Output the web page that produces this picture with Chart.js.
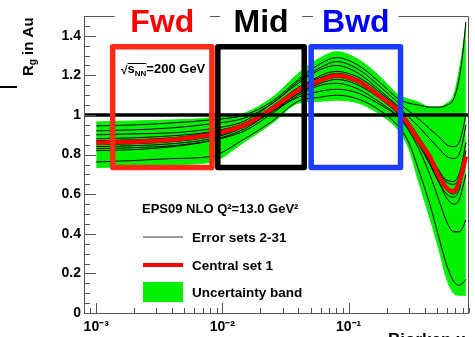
<!DOCTYPE html>
<html>
<head>
<meta charset="utf-8">
<script src="https://cdn.jsdelivr.net/npm/chart.js@4.4.0/dist/chart.umd.min.js"></script>
<style>
  html, body { margin: 0; padding: 0; background: #fff; }
  #wrap { width: 475px; height: 337px; }
</style>
</head>
<body>
<div id="wrap"><canvas id="chart" width="475" height="337"></canvas></div>
<script>
// Bjorken x sample points
const xValues = [0.001, 0.002, 0.004, 0.008, 0.015, 0.025, 0.04, 0.06, 0.08, 0.12, 0.18,
                 0.25, 0.3, 0.36, 0.44, 0.52, 0.6, 0.68, 0.75, 0.8, 0.85];

// Central set 1 (red)
const centralSet = [0.86, 0.865, 0.875, 0.90, 0.95, 1.035, 1.125, 1.175, 1.20, 1.17, 1.09,
                    1.02, 0.95, 0.87, 0.79, 0.69, 0.63, 0.615, 0.66, 0.72, 0.79];

// Uncertainty band edges (green)
const bandUpper = [0.965, 0.97, 0.975, 0.985, 1.01, 1.09, 1.21, 1.29, 1.32, 1.28, 1.19,
                   1.10, 1.08, 1.065, 1.04, 1.04, 1.06, 1.10, 1.22, 1.33, 1.46];
const bandLower = [0.735, 0.74, 0.75, 0.76, 0.865, 0.96, 1.06, 1.07, 1.075, 1.06, 1.0,
                   0.92, 0.83, 0.66, 0.48, 0.32, 0.17, 0.10, 0.09, 0.09, 0.09];

// Error sets 2-31 (a visible subset)
const errorSet2  = [0.945, 0.95, 0.96, 0.975, 1.0, 1.07, 1.18, 1.26, 1.29, 1.25, 1.16, 1.08, 1.06, 1.05, 1.04, 1.04, 1.05, 1.08, 1.18, 1.30, 1.47];
const errorSet3  = [0.763, 0.77, 0.78, 0.79, 0.88, 0.97, 1.07, 1.09, 1.10, 1.08, 1.02, 0.94, 0.86, 0.72, 0.55, 0.38, 0.24, 0.16, 0.14, 0.15, 0.17];
const errorSet4  = [0.90, 0.905, 0.91, 0.93, 0.97, 1.06, 1.16, 1.23, 1.25, 1.21, 1.12, 1.04, 0.99, 0.94, 0.88, 0.83, 0.79, 0.78, 0.80, 0.86, 0.95];
const errorSet5  = [0.83, 0.835, 0.845, 0.87, 0.92, 1.01, 1.10, 1.15, 1.16, 1.13, 1.06, 0.99, 0.92, 0.83, 0.70, 0.57, 0.46, 0.41, 0.41, 0.43, 0.47];
const errorSet6  = [0.88, 0.885, 0.895, 0.915, 0.96, 1.045, 1.14, 1.19, 1.21, 1.18, 1.10, 1.03, 0.96, 0.88, 0.79, 0.71, 0.66, 0.65, 0.68, 0.74, 0.82];
const errorSet7  = [0.84, 0.845, 0.855, 0.88, 0.94, 1.02, 1.11, 1.16, 1.18, 1.15, 1.08, 1.01, 0.94, 0.86, 0.77, 0.68, 0.62, 0.60, 0.64, 0.71, 0.78];
const errorSet8  = [0.87, 0.875, 0.885, 0.91, 0.955, 1.04, 1.13, 1.20, 1.22, 1.19, 1.11, 1.03, 0.965, 0.89, 0.80, 0.72, 0.67, 0.665, 0.70, 0.77, 0.86];
const errorSet9  = [0.85, 0.855, 0.865, 0.89, 0.94, 1.02, 1.11, 1.17, 1.19, 1.16, 1.08, 1.00, 0.93, 0.85, 0.75, 0.66, 0.60, 0.585, 0.62, 0.69, 0.75];
const errorSet10 = [0.82, 0.825, 0.84, 0.87, 0.93, 1.02, 1.09, 1.12, 1.13, 1.11, 1.05, 0.99, 0.94, 0.86, 0.76, 0.66, 0.58, 0.55, 0.57, 0.63, 0.70];
const errorSet11 = [0.92, 0.925, 0.935, 0.955, 0.985, 1.06, 1.17, 1.24, 1.27, 1.23, 1.14, 1.06, 1.02, 0.98, 0.93, 0.89, 0.85, 0.84, 0.86, 0.92, 1.0];

// axis ticks
const xTickValues = [0.001, 0.01, 0.1];
const yTickValues = [0, 0.2, 0.4, 0.6, 0.8, 1, 1.2, 1.4];

// rapidity windows
const regionNames = ['Fwd', 'Mid', 'Bwd'];
const regionXMin = [0.00135, 0.0092, 0.0505];
const regionXMax = [0.00826, 0.0445, 0.258];
const regionYMin = 0.735;
const regionYMax = 1.345;

const FONT = '"Liberation Sans", Arial, sans-serif';
const GREEN = '#00f000';

const sup = { '-': '\u207B', '0': '\u2070', '1': '\u00B9', '2': '\u00B2', '3': '\u00B3' };
function expLabel(v) {
    const e = String(Math.round(Math.log10(v)));
    return '10' + e.split('').map(c => sup[c]).join('');
}

function pts(ys) {
    return xValues.map((x, i) => ({ x: x, y: ys[i] }));
}

const errorSets = [errorSet2, errorSet3, errorSet4, errorSet5, errorSet6,
                   errorSet7, errorSet8, errorSet9, errorSet10, errorSet11];

const datasets = [
    { label: 'Central set 1', data: pts(centralSet), borderColor: '#ff0000', borderWidth: 4.5, order: 0 }
];
errorSets.forEach((s, i) => {
    datasets.push({ label: 'Error set ' + (i + 2), data: pts(s), borderColor: '#000', borderWidth: 1, order: 1 });
});
datasets.push({ label: 'band upper', data: pts(bandUpper), borderColor: GREEN, borderWidth: 1,
                backgroundColor: GREEN, fill: '+1', order: 2 });
datasets.push({ label: 'band lower', data: pts(bandLower), borderColor: GREEN, borderWidth: 1, order: 3 });

// frame, ticks, boxes and labels
const decor = {
    id: 'decor',
    afterDatasetsDraw(chart) {
        const ctx = chart.ctx;
        const a = chart.chartArea;
        const xs = chart.scales.x, ys = chart.scales.y;
        ctx.save();

        // line at R = 1
        const y1 = ys.getPixelForValue(1);
        ctx.strokeStyle = '#000';
        ctx.lineWidth = 3.5;
        ctx.beginPath(); ctx.moveTo(a.left, y1); ctx.lineTo(a.right, y1); ctx.stroke();

        // region boxes
        const boxColors = ['#ff2a14', '#000000', '#1a3cff'];
        const textColors = ['#ff0000', '#000000', '#0000ff'];
        const t = ys.getPixelForValue(regionYMax), b = ys.getPixelForValue(regionYMin);
        ctx.lineJoin = 'round';
        regionNames.forEach((n, i) => {
            const l = xs.getPixelForValue(regionXMin[i]), r = xs.getPixelForValue(regionXMax[i]);
            ctx.strokeStyle = boxColors[i];
            ctx.lineWidth = 5.5;
            ctx.strokeRect(l, t, r - l, b - t);
        });

        // frame
        ctx.strokeStyle = '#555';
        ctx.lineWidth = 1;
        ctx.strokeRect(a.left + 0.5, a.top + 0.5, a.right - a.left - 1, a.bottom - a.top);

        // y ticks (inside)
        ctx.beginPath();
        for (let i = 0; i <= 30; i++) {
            const py = Math.round(ys.getPixelForValue(i * 0.05)) + 0.5;
            const len = i % 4 === 0 ? 12 : 6;
            ctx.moveTo(a.left, py); ctx.lineTo(a.left + len, py);
        }
        // x ticks (inside)
        for (let d = -4; d <= 0; d++) {
            for (let m = 1; m <= 9; m++) {
                const v = m * Math.pow(10, d);
                if (v < xs.min || v > xs.max) continue;
                const px = Math.round(xs.getPixelForValue(v)) + 0.5;
                const len = m === 1 ? 10 : 5;
                ctx.moveTo(px, a.bottom); ctx.lineTo(px, a.bottom - len);
            }
        }
        ctx.stroke();

        // region titles over the top frame
        ctx.font = 'bold 32px ' + FONT;
        ctx.textAlign = 'center';
        ctx.textBaseline = 'alphabetic';
        regionNames.forEach((n, i) => {
            const l = xs.getPixelForValue(regionXMin[i]), r = xs.getPixelForValue(regionXMax[i]);
            ctx.fillStyle = '#fff';
            ctx.fillRect(l + 2, 6, r - l - 4, 18);
            ctx.fillStyle = textColors[i];
            ctx.fillText(n, (l + r) / 2, 32);
        });

        // sqrt(s_NN) label
        ctx.textAlign = 'left';
        ctx.fillStyle = '#000';
        let px = 121;
        ctx.font = 'bold 12px ' + FONT;
        ctx.fillText('\u221A', px, 74);
        px += ctx.measureText('\u221A').width;
        const ox = px;
        ctx.font = 'bold 13px ' + FONT;
        ctx.fillText('s', px, 73);
        px += ctx.measureText('s').width;
        ctx.font = 'bold 8px ' + FONT;
        ctx.fillText('NN', px, 76);
        px += ctx.measureText('NN').width;
        ctx.lineWidth = 1;
        ctx.strokeStyle = '#000';
        ctx.beginPath(); ctx.moveTo(ox, 63.5); ctx.lineTo(px, 63.5); ctx.stroke();
        ctx.font = 'bold 13px ' + FONT;
        ctx.fillText('=200 GeV', px, 73);

        // legend
        ctx.font = 'bold 13px ' + FONT;
        ctx.fillText('EPS09 NLO Q\u00B2=13.0 GeV\u00B2', 142, 213);
        ctx.strokeStyle = '#777';
        ctx.lineWidth = 1.5;
        ctx.beginPath(); ctx.moveTo(143, 237); ctx.lineTo(183, 237); ctx.stroke();
        ctx.strokeStyle = '#ff0000';
        ctx.lineWidth = 4;
        ctx.beginPath(); ctx.moveTo(143, 265); ctx.lineTo(183, 265); ctx.stroke();
        ctx.fillStyle = GREEN;
        ctx.fillRect(143, 282, 40, 20);
        ctx.fillStyle = '#000';
        ctx.font = 'bold 13.5px ' + FONT;
        ctx.fillText('Error sets 2-31', 192, 242);
        ctx.fillText('Central set 1', 192, 270);
        ctx.fillText('Uncertainty band', 192, 297);

        // y axis title
        ctx.save();
        ctx.translate(33, 76);
        ctx.rotate(-Math.PI / 2);
        ctx.font = 'bold 15px ' + FONT;
        ctx.fillText('R', 0, 0);
        let w = ctx.measureText('R').width;
        ctx.font = 'bold 10px ' + FONT;
        ctx.fillText('g', w, 3);
        w += ctx.measureText('g').width;
        ctx.font = 'bold 15px ' + FONT;
        ctx.fillText(' in Au', w, 0);
        ctx.restore();

        // stray mark at left and cut-off x title
        ctx.strokeStyle = '#000';
        ctx.lineWidth = 2;
        ctx.beginPath(); ctx.moveTo(0, 87); ctx.lineTo(17, 87); ctx.stroke();
        ctx.font = 'bold 17px ' + FONT;
        ctx.fillText('Bjorken x', 388, 345);

        ctx.restore();
    }
};

new Chart(document.getElementById('chart'), {
    type: 'line',
    data: { datasets: datasets },
    options: {
        responsive: false,
        animation: false,
        devicePixelRatio: 1,
        layout: { padding: { top: 16, right: 6, left: 0, bottom: 0 } },
        elements: {
            point: { radius: 0 },
            line: { cubicInterpolationMode: 'monotone' }
        },
        plugins: {
            legend: { display: false },
            tooltip: { enabled: false }
        },
        scales: {
            x: {
                type: 'logarithmic',
                min: 0.0008,
                max: 0.9,
                grid: { display: false, drawTicks: false },
                border: { display: false },
                afterBuildTicks: s => { s.ticks = xTickValues.map(v => ({ value: v })); },
                afterFit: s => { s.height = 24; },
                ticks: {
                    autoSkip: false, maxRotation: 0, padding: 6, color: '#000',
                    font: { family: FONT, size: 14, weight: 'bold' },
                    callback: v => expLabel(v)
                }
            },
            y: {
                min: 0,
                max: 1.5,
                grid: { display: false, drawTicks: false },
                border: { display: false },
                afterBuildTicks: s => { s.ticks = yTickValues.map(v => ({ value: v })); },
                afterFit: s => { s.width = 84; },
                ticks: {
                    padding: 3, color: '#000',
                    font: { family: FONT, size: 14, weight: 'bold' },
                    callback: v => String(Math.round(v * 10) / 10)
                }
            }
        }
    },
    plugins: [decor]
});
</script>
</body>
</html>
